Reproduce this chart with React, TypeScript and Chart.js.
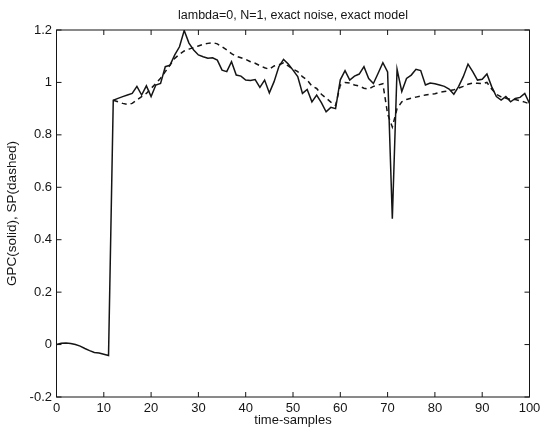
import React, { useEffect, useRef } from "react";
import { Chart, registerables } from "chart.js";

Chart.register(...registerables);

const samples = [
  0, 1, 2, 3, 4, 5, 6, 7, 8, 9, 10, 11, 12, 13, 14, 15, 16, 17, 18, 19, 20,
  21, 22, 23, 24, 25, 26, 27, 28, 29, 30, 31, 32, 33, 34, 35, 36, 37, 38, 39, 40,
  41, 42, 43, 44, 45, 46, 47, 48, 49, 50, 51, 52, 53, 54, 55, 56, 57, 58, 59, 60,
  61, 62, 63, 64, 65, 66, 67, 68, 69, 70, 71, 72, 73, 74, 75, 76, 77, 78, 79, 80,
  81, 82, 83, 84, 85, 86, 87, 88, 89, 90, 91, 92, 93, 94, 95, 96, 97, 98, 99, 100,
];

// GPC output (solid)
const gpc = [
  0, 0.005, 0.006, 0.004, 0.0, -0.006, -0.015, -0.023, -0.03, -0.032, -0.037, -0.042,
  0.932, 0.939, 0.946, 0.952, 0.958, 0.985, 0.952, 0.987, 0.946,
  0.99, 0.996, 1.06, 1.066, 1.105, 1.136, 1.198, 1.15, 1.124, 1.105,
  1.098, 1.092, 1.094, 1.085, 1.047, 1.041, 1.079, 1.028, 1.024, 1.009,
  1.007, 1.011, 0.981, 1.009, 0.96, 1.003, 1.06, 1.088, 1.07, 1.047,
  1.022, 0.958, 0.973, 0.926, 0.952, 0.923, 0.888, 0.905, 0.9, 1.01,
  1.045, 1.009, 1.024, 1.032, 1.06, 1.015, 0.996, 1.035, 1.075, 1.04,
  0.48, 1.05, 0.965, 1.015, 1.028, 1.05, 1.045, 0.99, 0.998, 0.995,
  0.99, 0.985, 0.975, 0.955, 0.984, 1.022, 1.07, 1.041, 1.009, 1.012,
  1.032, 0.984, 0.946, 0.933, 0.946, 0.926, 0.939, 0.943, 0.958, 0.92,
];

// Set point (dashed)
const sp = [
  null, null, null, null, null, null, null, null, null, null, null, null,
  0.932, 0.926, 0.92, 0.916, 0.92, 0.933, 0.946, 0.958, 0.977,
  0.996, 1.016, 1.041, 1.066, 1.092, 1.107, 1.12, 1.127, 1.133, 1.139,
  1.145, 1.149, 1.152, 1.147, 1.136, 1.124, 1.11, 1.1, 1.094, 1.088,
  1.079, 1.073, 1.064, 1.056, 1.05, 1.063, 1.067, 1.075, 1.063, 1.051,
  1.041, 1.022, 1.009, 0.986, 0.977, 0.955, 0.94, 0.925, 0.912, 0.99,
  1.0, 0.998, 0.99, 0.986, 0.978, 0.975, 0.985, 0.99, 0.995, 0.88,
  0.83, 0.9, 0.926, 0.935, 0.94, 0.944, 0.948, 0.952, 0.955, 0.957,
  0.962, 0.965, 0.968, 0.972, 0.978, 0.985, 0.993, 0.998, 0.997, 0.995,
  1.0, 0.975, 0.955, 0.945, 0.94, 0.935, 0.935, 0.93, 0.925, 0.918,
];

const xTicks = [0, 10, 20, 30, 40, 50, 60, 70, 80, 90, 100];
const xTickLabels = ["0", "10", "20", "30", "40", "50", "60", "70", "80", "90", "100"];
const yTicks = [-0.2, 0, 0.2, 0.4, 0.6, 0.8, 1, 1.2];
const yTickLabels = ["-0.2", "0", "0.2", "0.4", "0.6", "0.8", "1", "1.2"];

const titleText = "lambda=0, N=1, exact noise, exact model";
const xTitleText = "time-samples";
const yTitleText = "GPC(solid), SP(dashed)";

const INK = "#151515";
const FONT = "'Liberation Sans', Arial, Helvetica, sans-serif";

const framePlugin = {
  id: "matlabFrame",
  afterDatasetsDraw(chart: any) {
    const { ctx, chartArea: a, scales } = chart;
    ctx.save();
    ctx.strokeStyle = INK;
    ctx.lineWidth = 1;
    ctx.strokeRect(a.left, a.top, a.right - a.left, a.bottom - a.top);
    const L = 5;
    ctx.beginPath();
    for (const v of xTicks) {
      const px = scales.x.getPixelForValue(v);
      ctx.moveTo(px, a.bottom);
      ctx.lineTo(px, a.bottom - L);
      ctx.moveTo(px, a.top);
      ctx.lineTo(px, a.top + L);
    }
    for (const v of yTicks) {
      const py = scales.y.getPixelForValue(v);
      ctx.moveTo(a.left, py);
      ctx.lineTo(a.left + L, py);
      ctx.moveTo(a.right, py);
      ctx.lineTo(a.right - L, py);
    }
    ctx.stroke();
    ctx.restore();
  },
};

export default function App() {
  const canvasRef = useRef<HTMLCanvasElement | null>(null);

  useEffect(() => {
    const canvas = canvasRef.current;
    if (!canvas) return;
    const chart = new Chart(canvas, {
      type: "line",
      data: {
        datasets: [
          {
            label: "GPC",
            data: samples.map((t, i) => ({ x: t, y: gpc[i] })),
            borderColor: INK,
            borderWidth: 1.5,
            pointRadius: 0,
            tension: 0,
            fill: false,
          },
          {
            label: "SP",
            data: samples.map((t, i) => ({ x: t, y: sp[i] })),
            borderColor: INK,
            borderWidth: 1.5,
            borderDash: [5, 4],
            pointRadius: 0,
            tension: 0,
            fill: false,
          },
        ],
      },
      options: {
        animation: false,
        responsive: false,
        devicePixelRatio: 1,
        layout: { padding: { left: 0, right: 10.5, top: 0, bottom: 0 } },
        plugins: {
          legend: { display: false },
          tooltip: { enabled: false },
          title: {
            display: true,
            text: titleText,
            fullSize: false,
            color: INK,
            font: { family: FONT, size: 12.5, weight: "normal", lineHeight: 1.2 },
            padding: { top: 8, bottom: 7 },
          },
        },
        scales: {
          x: {
            type: "linear",
            min: 0,
            max: 100,
            afterFit: (s: any) => {
              s.height = 30;
              s.paddingLeft = 0;
              s.paddingRight = 0;
            },
            afterBuildTicks: (s: any) => {
              s.ticks = xTicks.map((v) => ({ value: v }));
            },
            ticks: {
              autoSkip: false,
              maxRotation: 0,
              padding: 4,
              color: INK,
              font: { family: FONT, size: 13 },
              callback: (_v: any, i: number) => xTickLabels[i],
            },
            grid: { display: false, drawTicks: false },
            border: { display: false },
            title: {
              display: true,
              text: xTitleText,
              color: INK,
              font: { family: FONT, size: 13, lineHeight: 1.0 },
              padding: { top: 0, bottom: 0 },
            },
          },
          y: {
            type: "linear",
            min: -0.2,
            max: 1.2,
            afterFit: (s: any) => {
              s.width = 56.5;
              s.paddingTop = 0;
              s.paddingBottom = 0;
            },
            afterBuildTicks: (s: any) => {
              s.ticks = yTicks.map((v) => ({ value: v }));
            },
            ticks: {
              autoSkip: false,
              padding: 4.5,
              color: INK,
              font: { family: FONT, size: 13 },
              callback: (_v: any, i: number) => yTickLabels[i],
            },
            grid: { display: false, drawTicks: false },
            border: { display: false },
            title: {
              display: true,
              text: yTitleText,
              color: INK,
              font: { family: FONT, size: 13.5, lineHeight: 1.0 },
              padding: { top: 5.5, bottom: 0 },
            },
          },
        },
      },
      plugins: [framePlugin],
    });
    return () => chart.destroy();
  }, []);

  return (
    <div style={{ position: "absolute", left: 0, top: 0, width: 540, height: 427, background: "#fff" }}>
      <canvas ref={canvasRef} width={540} height={427} style={{ display: "block" }} />
    </div>
  );
}
